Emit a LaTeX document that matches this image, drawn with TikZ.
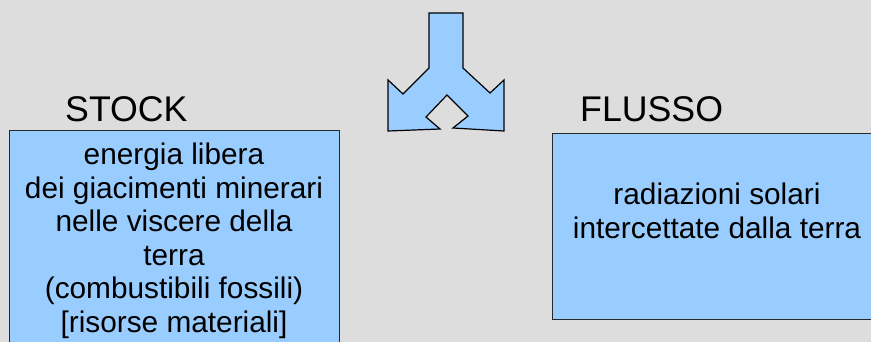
\documentclass[tikz,border=0pt]{standalone}
\usepackage{fontspec}
\setmainfont{Liberation Sans}
\definecolor{bggray}{RGB}{221,221,221}
\definecolor{boxblue}{RGB}{153,204,255}
\definecolor{edgegray}{RGB}{40,40,40}
\begin{document}
\begin{tikzpicture}[x=1pt,y=-1pt,
  panel/.style={draw=edgegray,line width=1pt,fill=boxblue,inner sep=0pt},
  heading/.style={inner sep=0pt,anchor=base west,font=\fontsize{35.7}{41}\selectfont},
  body/.style={inner sep=0pt,align=center,font=\fontsize{29.8}{33.5}\selectfont},
  splitarrow/.style={draw=black,line width=1.2pt,fill=boxblue,line join=miter}]
  % canvas
  \useasboundingbox (0,0) rectangle (871,342);
  \fill[bggray] (0,0) rectangle (871,342);
  \clip (0,0) rectangle (871,342);

  % two-way split arrow
  \filldraw[splitarrow]
    (429,13) -- (463,13) -- (463,68) -- (490,93) -- (504,80) -- (504,131)
    -- (453,128) -- (468,116) -- (447,95) -- (426,117) -- (440,129)
    -- (388,131) -- (388,80) -- (403,94) -- (429,68) -- cycle;

  % headings
  \node[heading] (stock) at (65,122) {STOCK};
  \node[heading] (flusso) at (580,122) {FLUSSO};

  % boxes
  \node[panel,minimum width=330pt,minimum height=221pt] (stockbox) at (174,241.5) {};
  \node[panel,minimum width=330pt,minimum height=185pt] (flussobox) at (717,226.5) {};

  % box texts
  \node[body] (stocktext) at (174,241) {energia libera\\dei giacimenti minerari\\nelle viscere della\\terra\\(combustibili fossili)\\[0pt][risorse materiali]};
  \node[body] (flussotext) at (717,211) {radiazioni solari\\intercettate dalla terra};
\end{tikzpicture}
\end{document}
